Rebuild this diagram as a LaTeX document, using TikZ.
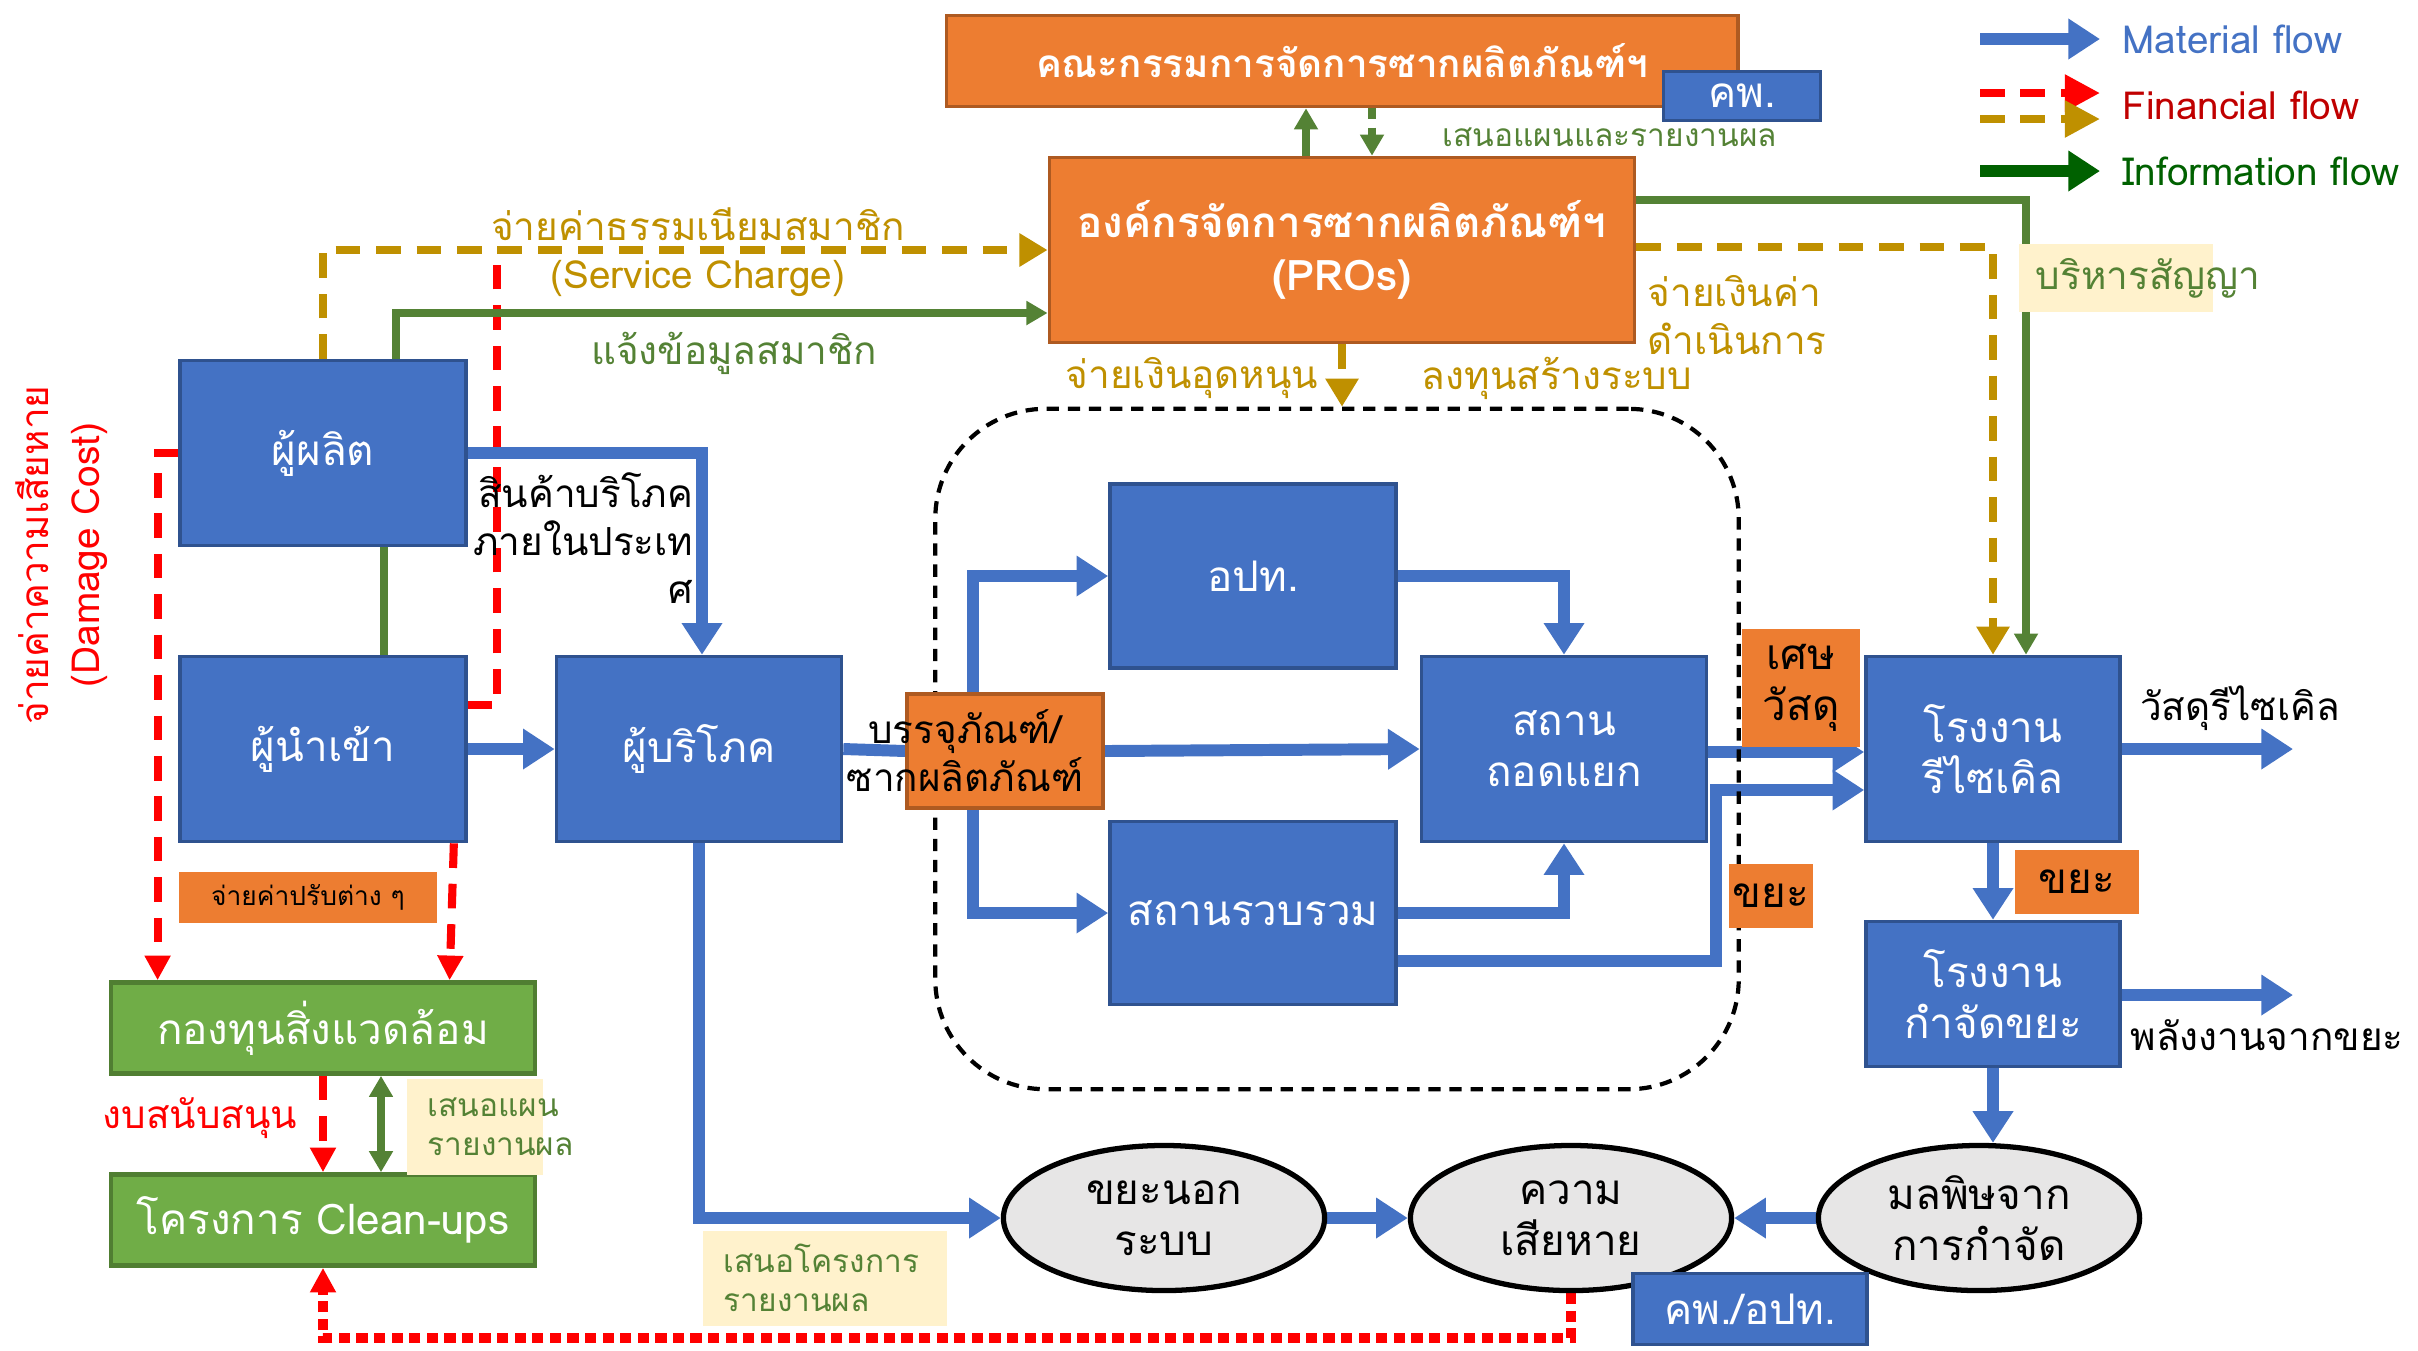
\documentclass[tikz,border=0pt]{standalone}
\usepackage{fontspec}
\setmainfont[Script=Thai]{Loma}
\usetikzlibrary{arrows.meta, calc, positioning, shapes.geometric, backgrounds}
\definecolor{boxblue}{HTML}{4472C4}
\definecolor{boxblueedge}{HTML}{2F528F}
\definecolor{boxorange}{HTML}{ED7D31}
\definecolor{boxorangeedge}{HTML}{AE5A21}
\definecolor{boxgreen}{HTML}{70AD47}
\definecolor{boxgreenedge}{HTML}{507E32}
\definecolor{infogreen}{HTML}{548235}
\definecolor{paygold}{HTML}{BF9000}
\definecolor{notecream}{HTML}{FFF2CC}
\definecolor{circgrey}{HTML}{E7E6E6}
\definecolor{legendgreen}{HTML}{006100}
\definecolor{legendred}{HTML}{C00000}

\begin{document}
\begin{tikzpicture}[x=0.01cm, y=-0.01cm,
    boxtxt/.style={font=\fontsize{12}{14.5}\selectfont},
    lbltxt/.style={font=\fontsize{11}{13.7}\selectfont, inner sep=0pt, align=center},
    bluebox/.style={draw=boxblueedge, fill=boxblue, line width=1pt, text=white, boxtxt, align=center, inner sep=0pt},
    orangebox/.style={draw=boxorangeedge, fill=boxorange, line width=1pt, align=center, inner sep=0pt},
    greenbox/.style={draw=boxgreenedge, fill=boxgreen, line width=1.3pt, text=white, boxtxt, inner sep=0pt},
    notebox/.style={fill=notecream, inner sep=0pt},
    notetxt/.style={text=infogreen, font=\fontsize{9}{11}\selectfont, align=left, inner sep=0pt},
    bubble/.style={ellipse, draw=black, line width=1.5pt, fill=circgrey, boxtxt, align=center, inner sep=0pt,
        minimum width=3.21cm, minimum height=1.45cm},
    matflow/.style={draw=boxblue, line width=3.4pt, -{Triangle[length=9pt,width=11pt]}},
    matline/.style={draw=boxblue, line width=3.4pt},
    infoflow/.style={draw=infogreen, line width=2.2pt, -{Triangle[length=6pt,width=6.5pt]}},
    infoline/.style={draw=infogreen, line width=2.2pt},
    feeflow/.style={draw=paygold, line width=2.3pt, dash pattern=on 7pt off 4.5pt, -{Triangle[length=8pt,width=9pt]}},
    dmgflow/.style={draw=red, line width=2.3pt, dash pattern=on 7pt off 4.5pt, -{Triangle[length=7pt,width=7pt]}},
    dmgline/.style={draw=red, line width=2.3pt, dash pattern=on 7pt off 4.5pt}]
    \useasboundingbox (0,0) rectangle (2418,1350);

    % Legend
    \coordinate (lgm1) at (1980,39);  \coordinate (lgm2) at (2100,39);
    \coordinate (lgr1) at (1980,93);  \coordinate (lgr2) at (2100,93);
    \coordinate (lgg1) at (1980,119); \coordinate (lgg2) at (2100,119);
    \coordinate (lgi1) at (1980,171); \coordinate (lgi2) at (2100,171);
    \draw[matflow] (lgm1) -- (lgm2);
    \draw[dmgflow, -{Triangle[length=10pt,width=10pt]}] (lgr1) -- (lgr2);
    \draw[feeflow, -{Triangle[length=10pt,width=10pt]}] (lgg1) -- (lgg2);
    \draw[draw=legendgreen, line width=3.4pt, -{Triangle[length=9pt,width=11pt]}] (lgi1) -- (lgi2);
    \node[lbltxt, anchor=west, text=boxblue] (lgmat) at (2122,39) {Material flow};
    \node[lbltxt, anchor=west, text=legendred] (lgfin) at (2122,105) {Financial flow};
    \node[lbltxt, anchor=west, text=legendgreen] (lginf) at (2122,171) {Information flow};

    % Top boxes
    \node[orangebox, text=white, font=\bfseries\fontsize{11}{15}\selectfont, minimum width=7.91cm, minimum height=0.91cm] (board) at (1342,61) {คณะกรรมการจัดการซากผลิตภัณฑ์ฯ};
    \node[bluebox, minimum width=1.57cm, minimum height=0.49cm] (pcd) at (1742,96) {คพ.};
    \node[orangebox, text=white, font=\bfseries\fontsize{12}{15}\selectfont, minimum width=5.85cm, minimum height=1.85cm] (pros) at (1342,250) {องค์กรจัดการซากผลิตภัณฑ์ฯ\\(PROs)};

    % Producers, importers, consumers
    \node[bluebox, minimum width=2.86cm, minimum height=1.85cm] (prod) at (323,453) {ผู้ผลิต};
    \node[bluebox, minimum width=2.86cm, minimum height=1.85cm] (imp) at (323,749) {ผู้นำเข้า};
    \node[bluebox, minimum width=2.85cm, minimum height=1.85cm] (cons) at (699,749) {ผู้บริโภค};

    % Collection and separation (dashed area)
    \node[draw, line width=1.2pt, dash pattern=on 3.5pt off 2.5pt, rounded corners=1.1cm, minimum width=8.03cm, minimum height=6.8cm] (region) at (1337,749) {};
    \node[bluebox, minimum width=2.86cm, minimum height=1.84cm] (lgo) at (1253,576) {อปท.};
    \node[bluebox, minimum width=2.85cm, minimum height=1.85cm] (sep) at (1564,749) {สถาน\\ถอดแยก};
    \node[bluebox, minimum width=2.86cm, minimum height=1.83cm] (coll) at (1253,913) {สถานรวบรวม};
    \node[orangebox, minimum width=1.96cm, minimum height=1.14cm] (pack) at (1005,751) {};
    \node[lbltxt] (packtxt) at (965,751) {บรรจุภัณฑ์/\\ซากผลิตภัณฑ์};

    % Plants
    \node[bluebox, minimum width=2.54cm, minimum height=1.85cm] (recyc) at (1993,749) {โรงงาน\\รีไซเคิล};
    \node[bluebox, minimum width=2.54cm, minimum height=1.45cm] (disp) at (1993,994) {โรงงาน\\กำจัดขยะ};

    % Fund and clean-ups
    \node[greenbox, minimum width=4.24cm, minimum height=0.91cm] (fund) at (323,1028) {กองทุนสิ่งแวดล้อม};
    \node[greenbox, minimum width=4.24cm, minimum height=0.91cm] (clean) at (323,1220) {โครงการ Clean-ups};

    % Outcomes
    \node[bubble] (outw) at (1164,1218) {ขยะนอก\\ระบบ};
    \node[bubble] (dmg) at (1571,1218) {ความ\\เสียหาย};
    \node[bubble] (poll) at (1979,1218) {มลพิษจาก\\การกำจัด};
    \node[bluebox, minimum width=2.34cm, minimum height=0.71cm] (pcdlgo) at (1750,1309) {คพ./อปท.};

    % Tags
    \node[orangebox, boxtxt, minimum width=1.18cm, minimum height=1.17cm, draw=none] (scrap) at (1801,688) {เศษ\\วัสดุ};
    \node[orangebox, boxtxt, minimum width=0.84cm, minimum height=0.64cm, draw=none] (wastea) at (1771,896) {ขยะ};
    \node[orangebox, boxtxt, minimum width=1.24cm, minimum height=0.64cm, draw=none] (wasteb) at (2077,882) {ขยะ};
    \node[orangebox, draw=none, font=\fontsize{7.5}{9}\selectfont, minimum width=2.57cm, minimum height=0.51cm] (fines) at (308,897) {จ่ายค่าปรับต่าง ๆ};
    \node[notebox, minimum width=1.93cm, minimum height=0.67cm] (contractbg) at (2116,278) {};
    \node[lbltxt, text=infogreen, anchor=west] (contract) at (2035,278) {บริหารสัญญา};
    \node[notebox, minimum width=1.36cm, minimum height=0.96cm] (planbg) at (475,1127) {};
    \node[notetxt, anchor=west] (planrep) at (427,1127) {เสนอแผน\\รายงานผล};
    \node[notebox, minimum width=2.44cm, minimum height=0.95cm] (projbg) at (825,1278) {};
    \node[notetxt, anchor=west] (projrep) at (723,1278) {เสนอโครงการ\\รายงานผล};

    % Free labels
    \node[lbltxt, text=paygold] (feelbl) at (698,252) {จ่ายค่าธรรมเนียมสมาชิก\\(Service Charge)};
    \node[lbltxt, text=infogreen] (memlbl) at (734,353) {แจ้งข้อมูลสมาชิก};
    \node[lbltxt, text=infogreen, anchor=west, font=\fontsize{9}{11}\selectfont] (boardlbl) at (1442,137) {เสนอแผนและรายงานผล};
    \node[lbltxt, text=paygold, anchor=west, align=left] (oplbl) at (1647,315) {จ่ายเงินค่า\\ดำเนินการ};
    \node[lbltxt, text=paygold] (sublbl) at (1192,378) {จ่ายเงินอุดหนุน};
    \node[lbltxt, text=paygold] (invlbl) at (1557,378) {ลงทุนสร้างระบบ};
    \node[lbltxt, anchor=north east, align=right] (goodslbl) at (694,472) {สินค้าบริโภค\\ภายในประเท\\ศ};
    \node[lbltxt] (reclbl) at (2240,708) {วัสดุรีไซเคิล};
    \node[lbltxt] (enlbl) at (2267,1035) {พลังงานจากขยะ};
    \node[lbltxt, text=red] (budlbl) at (200,1118) {งบสนับสนุน};
    \node[lbltxt, text=red, rotate=90, font=\fontsize{11}{14.5}\selectfont] (dmglbl) at (62,555) {จ่ายค่าความเสียหาย\\(Damage Cost)};

    \begin{scope}[on background layer]
    % Financial flows
    \draw[feeflow] (prod.north) |- (pros.west);
    \draw[feeflow] (pros.east |- 0,247) -| (recyc.north);
    \draw[feeflow] (pros.south) -- (pros.south |- region.north);
    \draw[dmgflow] (prod.west) -| ($(fund.north west)+(49,0)$);
    \draw[dmgflow] ($(imp.south east)+(-14,0)$) -- ($(fund.north west)+(341,0)$);
    \coordinate (dmgtop) at (497,258);
    \draw[dmgline] ($(imp.east)+(0,-44)$) -| (dmgtop);
    \draw[dmgflow] (fund.south) -- (clean.north);
    \draw[draw=red, line width=2.7pt, dash pattern=on 3.2pt off 1.8pt, -{Triangle[length=7pt,width=7pt]}] (dmg.south) -- ++(0,45) -| (clean.south);

    % Information flows
    \draw[infoflow] ($(prod.north)+(73,0)$) |- ($(pros.west)+(0,63)$);
    \draw[infoline] ($(prod.south)+(61,0)$) -- ($(imp.north)+(61,0)$);
    \draw[infoflow] (pros.north -| 1306,0) -- (board.south -| 1306,0);
    \draw[infoflow, dash pattern=on 3pt off 2.5pt] (board.south -| 1372,0) -- (pros.north -| 1372,0);
    \draw[infoflow] (pros.east |- 0,200) -| ($(recyc.north)+(33,0)$);
    \draw[infogreen, line width=2.4pt, {Triangle[length=6pt,width=6.5pt]}-{Triangle[length=6pt,width=6.5pt]}] ($(fund.south)+(58,0)$) -- ($(clean.north)+(58,0)$);

    % Material flows
    \draw[matflow] (prod.east) -| ($(cons.north)+(3,0)$);
    \draw[matflow] (imp.east) -- (cons.west);
    \draw[matline] (cons.east) -- (pack.west);
    \draw[matflow] (pack.east) -- (sep.west);
    \draw[matflow] ($(pack.north west)+(68,0)$) |- (lgo.west);
    \draw[matflow] ($(pack.south west)+(68,0)$) |- (coll.west);
    \draw[matflow] (lgo.east) -| (sep.north);
    \draw[matflow] (coll.east) -| (sep.south);
    \draw[matflow] ($(coll.east)+(0,48)$) -| (1716,870) |- ($(recyc.west)+(0,41)$);
    \draw[matflow] ($(sep.east)+(0,3)$) -- ($(recyc.west)+(0,3)$);
    \coordinate (recout) at (2293,749);
    \coordinate (enout) at (2293,995);
    \draw[matflow] (recyc.east) -- (recout);
    \draw[matflow] (recyc.south) -- (disp.north);
    \draw[matflow] (disp.east |- enout) -- (enout);
    \draw[matflow] (disp.south) -- (disp.south |- poll.north);
    \draw[matflow] (cons.south) |- (outw.west);
    \draw[matflow] (outw.east) -- (dmg.west);
    \draw[matflow] (poll.west) -- (dmg.east);
    \end{scope}
\end{tikzpicture}
\end{document}
